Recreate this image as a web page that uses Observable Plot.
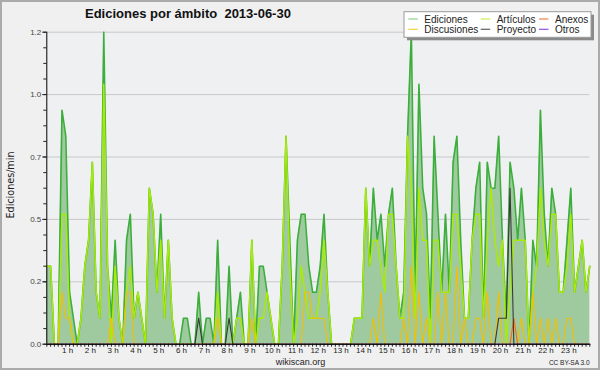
<!DOCTYPE html>
<html><head><meta charset="utf-8">
<script src="https://cdn.jsdelivr.net/npm/d3@7"></script>
<script src="https://cdn.jsdelivr.net/npm/@observablehq/plot@0.6"></script>
<style>
html,body{margin:0;padding:0;background:#f0f0f0;}
#chart{width:600px;height:370px;}
</style></head><body><div id="chart"></div>
<script>
// 10-minute slots of 2013-06-30 (0 = 00:00 ... 143 = 23:50)
const slots = d3.range(144);
const hours = [1,2,3,4,5,6,7,8,9,10,11,12,13,14,15,16,17,18,19,20,21,22,23];
const yMajor = [0, 0.24, 0.48, 0.72, 0.96, 1.2];
const yMinor = [0,0.06,0.12,0.18,0.24,0.30,0.36,0.42,0.48,0.54,0.60,0.66,0.72,0.78,0.84,0.90,0.96,1.02,1.08,1.14,1.2];

const ediciones = [
0.3,0.3,0,0,0.9,0.8,0.2,0.1,0,0.1,
0.3,0.4,0.7,0.2,0.1,1.2,0.3,0.1,0.4,0.1,
0,0.4,0.5,0.1,0.2,0.1,0,0.6,0.5,0.2,
0.5,0.1,0.4,0.1,0,0,0.1,0.1,0,0,
0.2,0,0.1,0.1,0,0.4,0,0,0.3,0,
0.1,0.2,0,0,0.4,0,0.3,0.3,0.2,0.1,
0,0,0.3,0.8,0.4,0,0.4,0.5,0.5,0.3,
0.2,0.2,0.3,0.5,0.2,0,0,0,0,0,
0,0.1,0.1,0.1,0.6,0.3,0.6,0.4,0.5,0.3,
0.5,0.6,0.3,0.1,0.2,0.8,1.2,0.2,1.0,0.6,
0.5,0.1,0.8,0.5,0.2,0.5,0.2,0.7,0.8,0.4,
0.1,0.1,0.4,0.6,0.7,0.1,0.7,0.6,0.6,0.8,
0.4,0.1,0.7,0.6,0.4,0.6,0.4,0,0.4,0.3,
0.9,0.5,0.3,0.6,0.5,0.2,0.2,0.4,0.6,0.2,
0.3,0.4,0.2,0.3];

const articulos = [
0.3,0.3,0,0,0.5,0.5,0.1,0,0,0.1,
0.3,0.4,0.7,0.2,0.1,1.0,0.3,0,0.3,0.1,
0,0.2,0.3,0.1,0.2,0.1,0,0.6,0.5,0.2,
0.4,0.1,0.4,0.1,0,0,0,0,0,0,
0,0,0,0,0,0.2,0,0,0,0,
0.1,0.1,0,0,0.4,0,0.1,0.1,0.2,0.1,
0,0,0.3,0.8,0.3,0,0.1,0.3,0.2,0.1,
0.1,0.1,0.2,0.4,0.2,0,0,0,0,0,
0,0.1,0.1,0.1,0.6,0.3,0.4,0.4,0.3,0.2,
0.5,0.5,0.3,0.1,0.1,0.8,0.6,0.1,0.6,0.4,
0.4,0,0.4,0.4,0.2,0.2,0.2,0.5,0.5,0.3,
0.1,0.1,0.4,0.5,0.5,0.1,0.4,0.6,0.4,0.3,
0.4,0,0.2,0.4,0.4,0.4,0.4,0,0.2,0.3,
0.6,0.4,0.3,0.5,0.5,0.2,0.2,0.3,0.5,0.2,
0.3,0.4,0.2,0.3];

const discusiones = [
0,0,0,0,0.2,0.1,0.1,0,0,0,
0,0,0,0,0,0,0,0.1,0,0,
0,0.2,0.2,0,0,0,0,0,0,0,
0,0,0,0,0,0,0,0,0,0,
0,0,0,0,0,0.1,0,0,0,0,
0,0,0,0,0.1,0,0,0,0,0,
0,0,0,0,0,0,0,0,0.2,0.2,
0.1,0.1,0.1,0.1,0,0,0,0,0,0,
0,0,0,0,0,0,0.1,0,0.2,0,
0,0,0,0,0.1,0,0.3,0,0.2,0,
0.1,0,0,0.2,0,0.2,0,0,0.3,0,
0.1,0,0,0.1,0.1,0,0.2,0,0,0.2,
0,0,0,0.1,0,0.1,0,0,0.2,0,
0.1,0,0.1,0,0.1,0,0,0.1,0.1,0,
0,0,0,0];

const proyecto = [
0,0,0,0,0,0,0,0,0,0, 0,0,0,0,0,0,0,0,0,0,
0,0,0,0,0,0,0,0,0,0, 0,0,0,0,0,0,0,0,0,0,
0.1,0,0,0,0,0,0,0,0.1,0, 0,0,0,0,0,0,0,0,0,0,
0,0,0,0,0,0,0,0,0,0, 0,0,0,0,0,0,0,0,0,0,
0,0,0,0,0,0,0,0,0,0, 0,0,0,0,0,0,0,0,0,0,
0,0,0,0,0,0,0,0,0,0, 0,0,0,0,0,0,0,0,0,0.1,
0.1,0.1,0.6,0,0,0,0,0,0,0, 0,0,0,0,0,0,0,0,0,0,
0,0,0,0];

const anexos = [
0,0,0,0,0,0,0,0,0,0, 0,0,0,0,0,0,0,0,0,0,
0,0,0,0,0,0,0,0,0,0, 0,0,0,0,0,0,0,0,0,0,
0,0,0,0,0,0,0,0,0,0, 0,0,0,0,0,0,0,0,0,0,
0,0,0,0,0,0,0,0,0,0, 0,0,0,0,0,0,0,0,0,0,
0,0,0,0,0,0,0,0,0,0, 0,0,0,0,0,0,0,0,0,0,
0,0,0,0,0,0,0,0,0,0, 0,0,0,0,0,0,0,0,0,0,
0,0,0,0.1,0,0,0,0,0,0, 0,0,0,0,0,0,0,0,0,0,
0,0,0,0];

const otros = slots.map(() => 0);

const seriesNames = ["Ediciones","Artículos","Anexos","Discusiones","Proyecto","Otros"];
const seriesColors = ["#3cae3c","#aaec00","#ee6a30","#f2c000","#3a3a3a","#8a46e6"];
const legendColors = ["#8fd08f","#c8f050","#f08050","#f8d040","#606060","#9050e0"];

const rows = slots.map((s, k) => ({
  slot: s, ed: ediciones[k], art: articulos[k], anx: anexos[k],
  dis: discusiones[k], pro: proyecto[k], otr: otros[k]
}));

const FONT = "'Liberation Sans', Arial, sans-serif";
const MONO = "'DejaVu Sans', sans-serif";

const chart = Plot.plot({
  width: 600, height: 370,
  marginLeft: 46.3, marginRight: 10.7, marginTop: 31.7, marginBottom: 26.3,
  style: {background: "#f0f0f0", fontFamily: FONT, color: "#222", overflow: "visible"},
  x: {domain: [0, 143]},
  y: {domain: [0, 1.2]},
  marks: [
    Plot.frame({fill: "#eef0f2", stroke: "none"}),
    Plot.ruleY(yMajor.slice(1), {stroke: "#c8c8c8", strokeWidth: 1}),
    Plot.areaY(rows, {x: "slot", y: "ed", fill: "#9fca9f"}),
    Plot.lineY(rows, {x: "slot", y: "ed", stroke: seriesColors[0], strokeWidth: 1.6}),
    Plot.lineY(rows, {x: "slot", y: "art", stroke: seriesColors[1], strokeWidth: 1.4}),
    Plot.lineY(rows, {x: "slot", y: "dis", stroke: seriesColors[3], strokeWidth: 1.1}),
    Plot.lineY(rows, {x: "slot", y: "anx", stroke: seriesColors[2], strokeWidth: 1.1}),
    Plot.lineY(rows, {x: "slot", y: "otr", stroke: seriesColors[5], strokeWidth: 1.1}),
    Plot.lineY(rows, {x: "slot", y: "pro", stroke: seriesColors[4], strokeWidth: 1.1}),
    Plot.axisY({ticks: yMinor, tickSize: 3, tickFormat: () => "", label: null}),
    Plot.axisY({ticks: yMajor, tickSize: 4, tickPadding: 1.5, tickFormat: d3.format(".1f"), fontSize: 8, label: null, fill: "#444"}),
    Plot.axisX({ticks: slots, tickSize: 3, tickFormat: () => "", label: null}),
    Plot.axisX({ticks: hours.map(h => h * 6), tickSize: 0, tickPadding: 3.5, tickFormat: d => `${d / 6} h`, fontSize: 8, dx: -2, label: null}),
    Plot.ruleX([0], {stroke: "#000"}),
    Plot.ruleY([0], {stroke: "#000"})
  ]
});

const svg = d3.select(chart);
// title
svg.append("text").attr("x", 85).attr("y", 18.3).attr("text-anchor", "start")
  .attr("font-family", FONT).attr("font-weight", "bold").attr("font-size", 13)
  .attr("fill", "#111").text("Ediciones por ámbito  2013-06-30");
// y label
svg.append("text").attr("transform", "translate(13.5,185) rotate(-90)")
  .attr("text-anchor", "middle").attr("font-family", MONO).attr("font-size", 9.6)
  .attr("fill", "#222").text("Ediciones/min");
// footer
svg.append("text").attr("x", 300.5).attr("y", 365).attr("text-anchor", "middle")
  .attr("font-family", FONT).attr("font-size", 9).attr("fill", "#222").text("wikiscan.org");
svg.append("text").attr("x", 589.5).attr("y", 365).attr("text-anchor", "end")
  .attr("font-family", FONT).attr("font-size", 6.5).attr("fill", "#222").text("CC BY-SA 3.0");
// legend
const lg = svg.append("g");
lg.append("rect").attr("x", 407).attr("y", 14.7).attr("width", 187).attr("height", 25.6).attr("fill", "#8a8a8a");
lg.append("rect").attr("x", 404).attr("y", 11.7).attr("width", 187).attr("height", 25.6)
  .attr("fill", "#ffffff").attr("stroke", "#9a9a9a").attr("stroke-width", 1);
const colX = [408.3, 480.7, 539];
const rowY = [19, 29.3];
seriesNames.forEach((name, k) => {
  const c = k % 3, r = Math.floor(k / 3);
  lg.append("line").attr("x1", colX[c]).attr("x2", colX[c] + 9.5)
    .attr("y1", rowY[r]).attr("y2", rowY[r]).attr("stroke", legendColors[k]).attr("stroke-width", 1.2);
  lg.append("text").attr("x", colX[c] + 16).attr("y", rowY[r] + 3.6).attr("text-anchor", "start")
    .attr("font-family", FONT).attr("font-size", 10).attr("fill", "#222").text(name);
});
// outer border
svg.append("rect").attr("x", 1).attr("y", 1).attr("width", 598).attr("height", 368)
  .attr("fill", "none").attr("stroke", "#ababab").attr("stroke-width", 2);

document.getElementById("chart").appendChild(chart);
</script></body></html>
